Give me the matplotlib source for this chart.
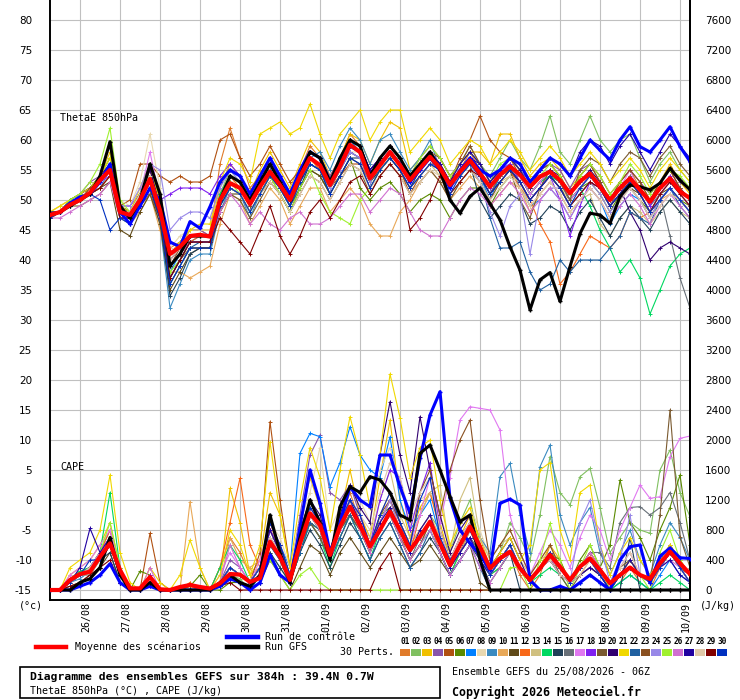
import matplotlib
matplotlib.use('Agg')

import numpy as np
import matplotlib.pyplot as plt
from matplotlib import transforms
from matplotlib.lines import Line2D
from matplotlib.patches import Rectangle

# ---- data: GEFS run 25/08/2026 06Z, 6-hourly, 0..384h ----
hours = list(range(0, 385, 6))

day_labels = ["26/08", "27/08", "28/08", "29/08", "30/08", "31/08", "01/09", "02/09",
              "03/09", "04/09", "05/09", "06/09", "07/09", "08/09", "09/09", "10/09"]
day_hours = [18 + 24 * k for k in range(len(day_labels))]

left_ticks = list(range(-15, 81, 5))
right_ticks = list(range(0, 7601, 400))

member_names = ["%02d" % k for k in range(1, 31)]
member_colors = ['#e07b2a', '#80c060', '#f0c000', '#8855aa', '#b05010', '#5a8a00',
                 '#0080ff', '#e8d8b0', '#3a8ac0', '#e8a858', '#604a18', '#f86818',
                 '#d0c080', '#00d860', '#204058', '#687078', '#e078f0', '#8020f0',
                 '#7a5a30', '#300070', '#f0d800', '#2060a0', '#8a5020', '#9888e8',
                 '#a0f030', '#d070d0', '#2000a0', '#e0c8a8', '#800000', '#0030c0']

# ThetaE 850hPa (deg C)
theta_mean = [47.5, 48, 49.2, 50, 51.2, 53.3, 55, 48, 47.5, 50, 53.5, 48.3, 41, 42.2, 44, 44.2,
              43.9, 50, 52.8, 52, 49.3, 52.2, 54.7, 52.5, 50, 53.9, 57, 55.8, 52.5, 55.6, 59.2,
              58, 53.6, 55.8, 58, 55.8, 53.3, 55.3, 57.2, 55.3, 52.5, 54.7, 56.6, 54.4, 52.2,
              54.2, 55.6, 54.2, 52.2, 53.9, 54.7, 53.3, 51.1, 53.1, 54.4, 52.2, 50, 52, 53.6,
              51.7, 49.7, 52, 53.6, 51.4, 50.3]
theta_ctrl = [47.5, 48, 49.5, 50.5, 51, 53, 56, 48, 46, 49, 52, 50, 43, 42.2, 46.4, 45.3, 48.9,
              53, 55, 54, 51, 54, 57, 54, 51, 55, 58, 57, 53, 56, 59, 58, 54, 56, 58, 56, 53,
              55, 57, 55, 52, 55, 57, 55, 54, 55, 57, 56, 53, 55, 57, 56, 54, 57, 60, 58.3,
              56.7, 60, 62.2, 58.9, 58, 60, 62.2, 58.9, 56.4]
theta_gfs = [47.5, 48, 49, 50, 51, 54, 59.7, 49, 47, 50, 56, 51, 39, 41, 44, 44, 44, 50, 54,
             53, 50, 53, 56, 53, 50, 54, 58, 57, 53, 57, 60, 59, 54, 57, 59, 57, 54, 56, 58,
             55, 50, 47.8, 50.6, 52, 49.4, 46.7, 42.2, 38.3, 31.7, 36.7, 37.9, 33.1, 38.9,
             44.4, 47.8, 47.5, 46.1, 50.6, 52.5, 52.2, 51.7, 52.8, 55.3, 53.3, 51.7]

theta_p01 = [48,48,50, 51,52,54,57, 49,47,51,55, 49,42,43,45, 45,44,56,62, 57,52,54,57, 54,51,55,59, 57,53,57,61, 59,54,57,59, 57,54,56,58, 56,53,55,58, 55,52,55,57, 55,52,55,56, 54,51,54,56, 53,50,53,55, 52,49,52,54, 52,50]
theta_p02 = [47,48,49, 50,51,53,56, 48,47,50,53, 47,38,40,43, 43,43,51,55, 53,50,53,56, 53,50,54,58, 57,53,56,60, 58,53,56,58, 56,53,55,57, 56,53,56,59, 56,54,57,60, 57,55,59,64, 58,56,60,64, 60,58,60,61, 57,53,56,58, 55,53]
theta_p03 = [48,49,50, 51,52,54,58, 49,48,51,55, 50,40,42,45, 45,45,52,56, 54,51,55,58, 55,52,56,60, 58,54,57,61, 60,56,60,63, 62,55,57,59, 57,54,56,58, 58,56,61,61, 57,54,56,57, 55,52,54,56, 54,51,53,55, 53,50,53,56, 53,51]
theta_p04 = [48,48,49, 51,53,54,56, 49,48,51,55, 49,41,43,45, 45,44,50,54, 53,50,53,56, 54,51,55,58, 57,54,57,60, 59,55,57,59, 57,54,57,59, 57,54,56,58, 56,53,55,57, 55,53,55,56, 55,52,55,56, 54,51,53,55, 53,51,53,55, 53,52]
theta_p05 = [47,48,49, 50,51,52,54, 49,50,56,56, 54,53,54,53, 53,54,60,61, 57,54,56,59, 56,53,55,57, 55,52,54,56, 56,53,55,57, 55,51,54,56, 56,53,57,60, 64,60,58,57, 54,51,53,55, 53,50,52,54, 52,49,51,54, 52,50,53,55, 52,50]
theta_p06 = [47,48,49, 50,51,53,55, 47,47,49,52, 47,36,39,42, 42,42,49,52, 51,48,51,54, 51,48,52,55, 54,51,54,57, 52,50,52,53, 51,48,50,51, 50,47,50,52, 52,49,52,54, 54,51,53,54, 52,50,52,53, 51,48,51,52, 50,48,50,52, 50,49]
theta_p07 = [48,48,50, 50,51,53,55, 48,47,50,53, 48,38,41,43, 44,44,50,53, 52,49,52,55, 52,49,53,57, 56,52,56,60, 58,54,57,59, 57,53,56,58, 55,52,54,56, 54,50,54,56, 52,49,50,52, 50,47,50,52, 50,46,49,51, 50,47,50,52, 50,48]
theta_p08 = [48,49,50, 51,52,54,57, 50,49,53,61, 52,42,44,45, 45,45,50,53, 53,50,53,55, 53,50,53,56, 55,52,55,58, 58,54,56,58, 56,53,55,57, 55,52,54,56, 55,52,54,55, 54,51,53,54, 53,49,51,53, 52,49,51,53, 51,48,51,53, 51,49]
theta_p09 = [47,48,49, 50,51,52,55, 47,46,49,52, 46,32,36,40, 41,41,48,52, 51,47,51,54, 52,49,53,57, 58,55,59,62, 60,56,60,61, 58,55,57,60, 55,52,54,56, 54,51,54,56, 54,51,53,54, 53,50,52,54, 52,49,51,53, 51,48,51,53, 51,49]
theta_p10 = [47,48,49, 50,51,52,54, 47,46,48,51, 45,38,38,37, 38,39,46,51, 50,46,49,52, 50,46,49,52, 52,48,50,52, 50,46,44,44, 48,50,53,55, 53,50,52,54, 52,49,51,53, 52,48,51,53, 51,48,50,52, 50,47,50,52, 50,47,50,51, 50,48]
theta_p11 = [47,48,49, 50,51,52,53, 45,44,48,51, 46,35,38,41, 42,42,48,51, 51,48,51,53, 51,48,52,55, 54,51,54,57, 56,52,55,57, 55,52,54,56, 55,52,54,56, 54,51,54,55, 53,50,52,54, 52,49,51,53, 52,49,51,52, 51,48,51,52, 50,48]
theta_p12 = [48,48,49, 50,52,53,55, 48,47,50,54, 48,39,41,43, 44,44,51,54, 52,49,52,55, 53,50,54,57, 55,52,55,59, 58,54,57,59, 57,54,56,58, 56,53,55,57, 55,52,54,55, 52,50,46,43, 36,38,41,44, 43,42,44,48, 47,48,50,52, 50,48]
theta_p13 = [47,48,49, 50,51,53,55, 48,48,50,53, 48,40,42,44, 44,44,49,52, 51,48,51,54, 52,49,53,56, 55,52,55,58, 57,53,55,57, 55,52,54,56, 54,50,53,55, 53,50,53,54, 53,49,51,53, 51,48,50,51, 46,44,47,49, 48,46,48,50, 48,47]
theta_p14 = [48,48,50, 51,52,54,57, 49,48,51,54, 49,39,41,44, 44,44,51,54, 53,50,53,56, 53,50,54,57, 56,52,55,59, 58,53,56,58, 56,53,55,57, 55,52,55,57, 55,52,55,56, 54,51,53,54, 53,50,52,49, 45,42,38,40, 37,31,35,39, 41,42]
theta_p15 = [47,48,49, 50,51,53,55, 47,47,49,52, 47,34,37,41, 42,42,49,52, 51,48,51,54, 52,49,52,56, 55,51,54,57, 57,53,55,57, 55,52,55,57, 55,52,54,56, 50,47,49,51, 50,46,47,49, 48,45,48,50, 47,44,47,49, 47,45,48,50, 48,46]
theta_p16 = [47,48,49, 50,51,53,55, 48,47,50,53, 48,37,40,43, 43,43,50,53, 52,49,52,55, 52,49,53,56, 55,52,55,58, 57,53,56,58, 56,53,55,57, 55,52,54,56, 54,51,54,55, 54,51,53,55, 53,50,52,54, 52,49,52,54, 52,49,51,44, 37,32]
theta_p17 = [47,48,49, 50,51,53,55, 48,47,51,58, 50,40,42,44, 44,44,50,53, 52,49,52,55, 53,50,54,57, 56,52,55,58, 57,53,56,58, 56,53,55,57, 55,52,55,57, 55,52,55,56, 54,51,53,55, 53,50,52,54, 53,50,52,55, 51,48,51,53, 51,49]
theta_p18 = [48,48,49, 51,52,53,54, 49,49,51,53, 50,51,52,52, 52,51,54,56, 54,51,54,57, 54,51,55,58, 57,53,56,60, 59,55,57,59, 57,54,56,58, 56,53,55,57, 55,52,55,56, 53,50,52,54, 50,44,49,53, 52,49,51,53, 52,49,52,54, 52,50]
theta_p19 = [47,48,49, 49,50,51,53, 47,47,49,51, 47,37,40,42, 42,42,48,51, 50,47,50,53, 51,48,51,54, 53,50,53,56, 55,51,54,56, 54,51,53,55, 53,50,53,55, 53,50,53,55, 50,47,52,55, 53,50,55,57, 56,53,56,58, 57,54,57,59, 56,54]
theta_p20 = [48,48,50, 51,52,54,56, 49,48,51,55, 49,40,42,44, 44,44,50,54, 53,50,53,56, 53,50,54,58, 57,53,56,60, 59,55,57,59, 57,54,56,58, 56,53,55,57, 56,53,55,57, 55,52,54,55, 54,51,53,55, 53,50,52,48, 45,40,42,43, 42,41]
theta_p21 = [48,49,50, 51,52,54,57, 49,48,52,56, 50,41,43,45, 46,46,53,57, 56,53,61,62, 63,61,62,66, 61,57,61,63, 65,60,63,65, 65,58,60,62, 60,56,58,60, 59,56,58,60, 58,55,57,59, 57,54,56,58, 56,53,55,57, 55,52,55,57, 55,53]
theta_p22 = [47,48,49, 50,51,53,55, 48,47,50,53, 48,36,39,42, 43,43,50,53, 52,49,52,55, 52,49,53,56, 55,52,55,58, 57,53,56,58, 56,53,55,57, 55,52,54,56, 54,47,42,42, 43,38,35,36, 40,38,40,40, 40,42,44,48, 47,46,50,52, 49,47]
theta_p23 = [48,48,49, 50,52,53,55, 48,48,51,54, 49,39,42,44, 44,44,50,53, 52,49,52,56, 53,50,54,58, 57,53,56,59, 58,54,57,59, 57,54,56,58, 57,54,56,59, 56,53,55,57, 55,52,55,56, 54,51,54,56, 53,50,53,55, 53,50,53,55, 52,50]
theta_p24 = [47,48,49, 50,51,53,56, 49,49,52,56, 55,45,47,48, 48,47,52,55, 53,50,53,56, 53,50,54,57, 56,52,55,58, 57,53,56,58, 56,53,55,57, 55,52,54,56, 53,48,44,49, 51,41,50,52, 52,49,51,53, 51,48,50,52, 50,47,50,52, 50,48]
theta_p25 = [48,48,50, 51,53,56,62, 50,48,51,54, 49,38,40,43, 43,43,49,53, 51,48,51,54, 51,48,52,55, 51,48,47,46, 50,52,55,57, 57,54,57,59, 57,54,56,58, 56,53,56,57, 55,52,54,56, 54,51,54,56, 54,51,53,56, 54,51,53,55, 54,52]
theta_p26 = [47,47,48, 49,50,51,53, 47,47,50,54, 48,39,41,43, 43,43,48,51, 49,46,48,46, 45,47,48,46, 46,47,49,51, 51,48,50,52, 51,48,45,44, 44,47,50,52, 51,49,51,53, 51,48,50,52, 50,47,50,52, 50,47,49,51, 49,46,49,51, 49,47]
theta_p27 = [48,48,49, 50,51,53,56, 48,47,50,53, 48,37,40,43, 43,43,50,54, 53,50,53,56, 53,50,54,58, 57,53,56,60, 59,55,57,59, 57,54,56,58, 56,53,56,58, 56,53,55,57, 55,52,55,57, 56,54,58,60, 59,56,59,61, 58,55,58,61, 59,57]
theta_p28 = [47,48,49, 50,51,53,55, 48,48,51,54, 49,40,42,44, 44,44,50,52, 51,48,51,53, 51,48,51,54, 53,50,53,56, 55,52,54,56, 54,51,53,55, 54,51,53,55, 53,50,52,54, 52,49,51,53, 51,48,50,52, 50,47,50,52, 50,47,49,51, 50,48]
theta_p29 = [47,48,49, 50,51,52,54, 47,47,49,52, 47,37,40,43, 43,43,47,45, 43,41,45,49, 44,41,44,48, 50,47,50,53, 54,51,54,56, 54,45,47,50, 54,51,53,55, 54,51,53,55, 53,50,52,54, 52,49,51,53, 52,49,51,53, 51,48,51,53, 51,49]
theta_p30 = [47,48,49, 50,51,50,45, 47,46,49,52, 47,36,39,42, 42,42,49,52, 51,48,51,54, 52,49,53,56, 55,51,54,57, 56,52,55,57, 55,52,54,56, 55,51,54,56, 54,51,53,55, 53,50,52,54, 52,49,52,54, 52,49,51,53, 51,48,50,52, 50,48]

# CAPE (J/kg)
cape_mean = [0,0,133, 213,244,444,622, 267,22,22,173, 10,0,40,67, 40,20,89,213, 205,107,160,644, 444,133,622,1022, 867,467,844,1111, 860,580,800,1044, 800,533,711,911, 622,333,600,844, 578,289,422,511, 289,133,289,467, 311,133,311,422, 267,89,200,300, 200,147,356,511, 356,213]
cape_ctrl = [0,0,0, 50,100,200,350, 100,0,0,50, 0,0,0,0, 0,0,50,150, 100,0,100,467, 200,100,844,1600, 1156,500,900,1378, 1200,1111,1800,1800, 1378,1022,1756,2333, 2644,1222,800,622, 467,267,1156,1211, 1133,133,0,0, 50,0,100,200, 100,0,400,578, 600,100,450,560, 430,420]
cape_gfs = [0,0,0, 100,150,300,700, 200,0,0,100, 0,0,0,0, 0,0,100,200, 100,50,200,1000, 500,100,700,1200, 900,400,1111,1378, 1300,1511,1467,1300, 1000,933,1822,1933, 1600,1244,911,1000, 400,0,0,0, 0,0,0,0, 0,0,0,0, 0,0,0,0, 0,0,0,0, 0,0]

cape_p01 = [0,0,100, 200,300,500,700, 300,0,0,100, 0,0,0,50, 0,0,300,700, 500,200,300,900, 500,100,700,1200, 900,400,900,1300, 900,500,800,1100, 700,400,600,900, 500,200,500,800, 500,200,300,500, 200,0,200,600, 300,100,200,400, 200,0,100,300, 100,0,300,500, 300,100]
cape_p02 = [0,0,150, 250,300,500,700, 200,0,0,100, 0,0,0,0, 0,0,50,200, 150,0,100,500, 300,100,500,900, 800,400,900,1200, 800,500,900,1200, 900,600,800,1000, 800,500,900,1200, 600,300,500,900, 700,400,1000,1780, 1300,1133,1511,1622, 1100,500,700,900, 800,756,1600,1867, 1300,978]
cape_p03 = [0,0,200, 300,400,600,900, 300,0,0,200, 0,0,0,100, 0,0,100,1356, 900,200,400,1300, 1000,300,900,1500, 1100,500,1000,1600, 1000,700,1500,2267, 1200,700,1100,1300, 900,400,700,1000, 700,300,400,600, 300,100,300,600, 400,100,300,500, 300,0,200,300, 200,100,400,600, 400,200]
cape_p04 = [0,0,100, 200,300,500,800, 200,0,0,100, 0,0,0,0, 0,0,100,400, 300,100,200,800, 600,200,1000,1800, 2067,1300,1200,1400, 1000,600,900,1200, 900,500,700,900, 600,300,600,800, 500,200,400,500, 300,100,300,400, 300,100,300,400, 200,100,200,300, 200,100,400,600, 400,200]
cape_p05 = [0,0,100, 200,300,400,600, 300,0,0,756, 100,0,0,0, 0,0,100,300, 200,100,500,2244, 1200,300,700,1000, 800,400,800,1000, 800,500,800,1000, 700,500,700,900, 600,300,500,800, 500,200,400,500, 300,100,300,400, 300,100,300,400, 200,0,200,300, 200,100,300,500, 300,200]
cape_p06 = [0,0,100, 200,300,400,600, 200,0,250,200, 0,0,0,50, 200,0,0,100, 100,0,200,600, 400,100,600,900, 800,400,800,1000, 800,500,1000,1100, 800,500,700,900, 600,300,500,700, 500,300,400,500, 300,100,300,500, 400,100,400,600, 300,600,1467,900, 700,400,800,1100, 1533,600]
cape_p07 = [0,0,100, 200,200,400,600, 200,0,0,100, 0,0,0,0, 0,0,100,300, 200,100,300,900, 600,300,1822,2089, 2044,1378,1700,2178, 1800,1600,1500,2044, 1200,800,1000,1200, 700,400,600,900, 500,200,400,500, 300,100,300,400, 200,100,200,300, 200,0,100,200, 100,0,200,400, 200,100]
cape_p08 = [0,0,100, 200,300,500,700, 200,0,0,200, 0,0,0,0, 0,0,100,300, 200,100,300,900, 700,300,900,1300, 1900,800,1100,1400, 1200,900,1600,1900, 1400,900,1200,1300, 1000,600,900,1100, 800,400,600,800, 500,200,400,600, 300,100,300,400, 200,0,200,400, 200,100,300,500, 300,100]
cape_p09 = [0,0,100, 150,250,400,600, 200,0,0,100, 0,0,0,0, 0,0,50,200, 100,0,200,600, 400,100,500,900, 700,400,800,1000, 800,500,800,1000, 800,500,700,900, 600,300,500,800, 700,500,1511,1689, 1000,500,1644,1933, 1000,600,900,1100, 500,200,500,800, 400,200,600,900, 700,400]
cape_p10 = [0,0,100, 200,200,400,600, 200,0,0,100, 0,0,0,1178, 300,0,100,700, 400,300,400,800, 500,200,600,1000, 800,400,900,1100, 900,600,1000,1300, 900,600,800,1000, 700,300,500,800, 500,200,400,600, 300,100,300,500, 300,100,300,500, 300,0,200,400, 200,100,300,500, 300,100]
cape_p11 = [0,0,50, 100,200,300,500, 100,0,0,100, 0,0,0,0, 0,0,50,200, 100,0,100,400, 200,0,300,600, 500,200,500,700, 500,300,500,700, 500,300,400,600, 400,200,400,600, 100,0,0,0, 0,0,0,0, 0,0,0,0, 0,0,0,0, 0,0,0,0, 0,0]
cape_p12 = [0,0,100, 200,300,500,800, 300,0,0,200, 0,0,0,100, 0,0,300,900, 1489,600,300,900, 600,200,700,1100, 900,400,800,1200, 1000,600,900,1200, 800,500,1000,1300, 800,400,700,900, 600,300,400,600, 300,100,300,400, 200,100,200,300, 200,0,200,300, 200,100,300,500, 300,100]
cape_p13 = [0,0,100, 200,300,400,600, 200,0,0,100, 0,0,0,0, 0,0,100,200, 200,100,200,700, 500,200,700,1100, 900,500,900,1200, 900,700,1200,1600, 1000,700,1000,1300, 1400,500,1200,1500, 700,400,600,700, 400,200,400,500, 300,100,300,400, 200,0,200,300, 200,100,300,500, 300,100]
cape_p14 = [0,0,150, 250,300,500,1300, 300,0,0,100, 0,0,0,0, 0,0,300,600, 400,100,300,700, 400,100,500,900, 700,300,700,1000, 700,400,800,1000, 700,400,600,800, 500,200,500,700, 400,200,300,500, 300,100,200,300, 200,0,100,200, 100,0,100,200, 100,0,100,200, 100,0]
cape_p15 = [0,0,100, 200,300,400,500, 100,0,0,100, 0,0,0,0, 0,0,50,150, 100,0,100,500, 300,100,500,800, 600,300,600,900, 700,400,700,900, 600,300,500,700, 500,200,400,600, 400,100,300,500, 0,0,0,0, 0,0,0,0, 0,0,0,700, 0,0,0,0, 0,0]
cape_p16 = [0,0,100, 200,300,400,600, 200,0,0,100, 0,0,0,0, 0,0,100,200, 200,100,200,600, 400,100,600,900, 700,400,700,1000, 800,500,800,1000, 700,400,700,900, 600,300,500,700, 500,200,400,600, 300,100,300,500, 300,100,300,500, 500,300,900,1100, 1111,1000,1100,1300, 900,400]
cape_p17 = [0,0,200, 300,400,600,800, 300,0,0,100, 0,0,0,0, 0,0,200,500, 300,100,400,900, 600,200,700,1100, 900,500,900,1200, 900,600,900,1200, 900,600,1000,1500, 900,1500,2267,2444, 2422,2400,2133,1000, 500,200,500,800, 600,300,700,1000, 800,400,800,1100, 1400,1222,1244,1778, 2022,2053]
cape_p18 = [0,0,100, 200,300,500,700, 200,0,0,200, 0,0,0,0, 0,0,100,300, 200,100,300,800, 500,200,600,1000, 800,400,900,1200, 1000,600,1200,1600, 1500,800,1300,1700, 800,400,700,900, 500,200,400,600, 300,100,300,500, 300,100,300,400, 200,0,200,400, 200,100,300,500, 300,200]
cape_p19 = [0,0,100, 200,300,400,600, 200,0,0,100, 0,0,0,0, 0,0,100,200, 200,100,300,700, 500,200,600,900, 700,400,800,1000, 800,500,800,1000, 700,400,600,900, 600,300,500,700, 400,200,400,600, 300,100,300,500, 200,0,200,300, 200,100,300,400, 200,100,1000,2400, 711,300]
cape_p20 = [0,0,100, 200,300,500,700, 200,0,0,100, 0,0,0,0, 0,0,100,300, 200,100,300,900, 600,200,800,1200, 1000,500,1000,1400, 1100,900,1800,2511, 1800,1300,2311,1600, 1000,500,800,1000, 600,300,500,700, 400,100,300,500, 300,100,300,400, 200,0,200,300, 200,100,300,500, 300,100]
cape_p21 = [0,0,300, 400,500,800,1533, 500,100,0,300, 100,0,200,667, 300,0,200,800, 600,200,600,1978, 1000,300,1200,1900, 1500,800,1600,2311, 1800,1100,1800,2880, 2300,1500,1900,2000, 1200,600,900,1100, 600,300,500,700, 400,600,1600,1700, 800,400,1300,1400, 600,200,500,700, 400,200,400,600, 400,200]
cape_p22 = [0,0,100, 200,300,400,600, 200,0,0,100, 0,0,0,0, 0,0,50,200, 100,0,200,600, 400,100,500,900, 800,400,700,1000, 700,400,700,900, 600,300,500,800, 500,200,400,600, 300,0,0,0, 0,0,0,0, 0,0,0,0, 0,0,0,0, 0,0,0,0, 0,0]
cape_p23 = [0,0,100, 200,300,400,600, 200,0,0,100, 0,0,0,0, 0,0,100,300, 200,100,300,800, 500,200,600,1000, 800,400,900,1100, 900,600,1000,1200, 900,600,1300,1600, 1000,1600,2000,2267, 1200,400,600,800, 500,200,400,600, 300,100,300,500, 300,100,200,400, 200,100,300,500, 300,200]
cape_p24 = [0,0,100, 200,300,500,700, 200,0,0,100, 0,0,0,0, 0,0,100,300, 200,100,300,700, 500,200,600,1000, 800,400,800,1100, 900,600,900,1200, 800,500,700,900, 600,300,500,700, 400,200,400,600, 300,100,300,500, 300,100,900,1200, 600,100,400,1000, 200,100,300,500, 300,100]
cape_p25 = [0,0,100, 200,300,500,900, 300,0,0,100, 0,0,0,0, 0,0,100,300, 200,100,200,400, 200,0,200,300, 100,0,0,0, 0,0,0,0, 0,0,0,0, 0,0,0,0, 0,0,0,300, 300,0,400,889, 400,0,300,600, 300,0,200,400, 200,0,500,800, 400,200]
cape_p26 = [0,0,100, 200,300,500,700, 200,0,0,300, 0,0,0,0, 0,0,100,600, 300,100,300,800, 500,200,600,1000, 800,400,800,1100, 800,500,800,1000, 700,400,600,800, 500,200,400,600, 300,100,300,500, 300,100,300,400, 300,100,300,500, 300,100,300,500, 200,100,300,400, 300,100]
cape_p27 = [0,0,100, 300,822,500,700, 200,0,0,100, 0,0,0,0, 0,0,100,300, 200,100,300,800, 500,200,600,1000, 800,400,900,1200, 900,600,900,1100, 800,500,800,1000, 600,300,500,700, 400,200,400,600, 300,100,300,400, 200,100,200,300, 200,0,200,400, 200,100,300,400, 200,100]
cape_p28 = [0,0,100, 200,300,400,600, 200,0,0,100, 0,0,0,0, 0,0,100,300, 200,100,300,700, 500,200,600,1000, 800,400,900,1200, 1000,800,1300,1700, 1500,1000,1300,1500, 800,400,700,900, 500,200,400,600, 300,100,300,400, 200,100,200,400, 200,100,300,500, 200,100,300,500, 300,100]
cape_p29 = [0,0,50, 100,200,300,400, 100,0,0,50, 0,0,0,0, 0,0,50,100, 0,0,0,0, 0,0,0,0, 0,0,0,0, 0,0,300,500, 0,0,0,0, 0,0,0,0, 0,0,0,0, 0,0,0,0, 0,0,0,0, 0,0,0,0, 0,0,0,0, 0,0]
cape_p30 = [0,0,100, 200,400,400,600, 200,0,0,100, 0,0,0,0, 0,0,100,300, 200,100,300,900, 600,200,700,1100, 900,500,900,1200, 1000,600,1000,1300, 900,600,1200,1500, 700,400,600,800, 500,200,400,600, 300,100,300,500, 300,100,300,400, 200,0,200,300, 200,100,300,500, 300,100]

theta_members = [theta_p01, theta_p02, theta_p03, theta_p04, theta_p05, theta_p06, theta_p07,
                 theta_p08, theta_p09, theta_p10, theta_p11, theta_p12, theta_p13, theta_p14,
                 theta_p15, theta_p16, theta_p17, theta_p18, theta_p19, theta_p20, theta_p21,
                 theta_p22, theta_p23, theta_p24, theta_p25, theta_p26, theta_p27, theta_p28,
                 theta_p29, theta_p30]
cape_members = [cape_p01, cape_p02, cape_p03, cape_p04, cape_p05, cape_p06, cape_p07,
                cape_p08, cape_p09, cape_p10, cape_p11, cape_p12, cape_p13, cape_p14,
                cape_p15, cape_p16, cape_p17, cape_p18, cape_p19, cape_p20, cape_p21,
                cape_p22, cape_p23, cape_p24, cape_p25, cape_p26, cape_p27, cape_p28,
                cape_p29, cape_p30]

for name, series in zip(member_names, theta_members):
    assert len(series) == len(hours), ('theta', name, len(series))
for name, series in zip(member_names, cape_members):
    assert len(series) == len(hours), ('cape', name, len(series))
for series in (theta_mean, theta_ctrl, theta_gfs, cape_mean, cape_ctrl, cape_gfs):
    assert len(series) == len(hours), len(series)

# ---- figure ----
W, H = 740, 700
MONO = 'DejaVu Sans Mono'
GRID = '#c0c0c0'

def fx(px):
    return px / W

def fy(py):
    return 1 - py / H

fig = plt.figure(figsize=(W / 100, H / 100), dpi=100)
ax = fig.add_axes([fx(50), fy(600), fx(640), 600 / H])

# left axis in deg C; CAPE axis shares the same pixels (400 J/kg per 5 C, 0 at -15 C)
ymin, ymax = -15 - 10 / 6, 80 + 20 / 6
ax.set_xlim(0, 384)
ax.set_ylim(ymin, ymax)
ax2 = ax.twinx()
ax2.set_ylim((ymin + 15) * 80, (ymax + 15) * 80)
ax2.set_xlim(0, 384)

ax.set_yticks(left_ticks)
ax.set_yticklabels([str(v) for v in left_ticks], fontsize=7.5)
ax2.set_yticks(right_ticks)
ax2.set_yticklabels([str(v) for v in right_ticks], fontsize=7.5)
ax.set_xticks(day_hours)
ax.set_xticklabels([])
ax.tick_params(axis='both', length=0, pad=13)
ax2.tick_params(axis='y', length=0, pad=11)
ax.grid(True, color=GRID, linewidth=0.8)
ax.set_axisbelow(True)

for sp in ('left', 'right', 'bottom'):
    ax.spines[sp].set_linewidth(1.4)
ax.spines['top'].set_visible(False)
for sp in ('left', 'top', 'bottom'):
    ax2.spines[sp].set_visible(False)
ax2.spines['right'].set_linewidth(1.4)

# members
for col, th, cp in zip(member_colors, theta_members, cape_members):
    ax.plot(hours, th, color=col, lw=0.8, marker='+', ms=3, mew=0.7, zorder=2)
    ax2.plot(hours, cp, color=col, lw=0.8, marker='+', ms=3, mew=0.7, zorder=2)

ax.plot(hours, theta_ctrl, color='#0000ff', lw=2.2, marker='+', ms=3, zorder=3)
ax.plot(hours, theta_gfs, color='black', lw=2.2, marker='+', ms=3, zorder=3)
ax.plot(hours, theta_mean, color='#ff0000', lw=3.0, zorder=4)
ax2.plot(hours, cape_ctrl, color='#0000ff', lw=2.2, marker='+', ms=3, zorder=3)
ax2.plot(hours, cape_gfs, color='black', lw=2.2, marker='+', ms=3, zorder=3)
ax2.plot(hours, cape_mean, color='#ff0000', lw=3.0, zorder=4)

ax.text(0.0156, 0.803, 'ThetaE 850hPa', transform=ax.transAxes, family=MONO,
        fontsize=7.2, ha='left', va='center')
ax.text(0.0156, 0.222, 'CAPE', transform=ax.transAxes, family=MONO,
        fontsize=7.2, ha='left', va='center')

# date labels, rotated, under each day line
base = transforms.blended_transform_factory(ax.transData, ax.transAxes)
lab_tr = transforms.offset_copy(base, fig=fig, x=6, y=-2, units='dots')
for h, lab in zip(day_hours, day_labels):
    ax.text(h, 0, lab, transform=lab_tr, rotation=90, ha='center', va='top',
            family=MONO, fontsize=7.2)

fig.text(fx(31), fy(606), '(°c)', family=MONO, fontsize=7.2, ha='center', va='center')
fig.text(fx(700), fy(606), '(J/kg)', family=MONO, fontsize=7.2, ha='left', va='center')

# legend
fig.add_artist(Line2D([fx(36), fx(66)], [fy(647), fy(647)], color='#ff0000', lw=3.2))
fig.text(fx(75), fy(647), 'Moyenne des scénarios', family=MONO, fontsize=7.2, va='center')
fig.add_artist(Line2D([fx(227), fx(258)], [fy(637), fy(637)], color='#0000ff', lw=3.2))
fig.text(fx(265), fy(637), 'Run de contrôle', family=MONO, fontsize=7.2, va='center')
fig.add_artist(Line2D([fx(227), fx(258)], [fy(647), fy(647)], color='black', lw=3.2))
fig.text(fx(265), fy(647), 'Run GFS', family=MONO, fontsize=7.2, va='center')
fig.text(fx(340), fy(652), '30 Perts.', family=MONO, fontsize=7.2, va='center')

pitch = 328 / 30
for k, (name, col) in enumerate(zip(member_names, member_colors)):
    x0 = 400 + k * pitch
    fig.add_artist(Rectangle((fx(x0), fy(656)), fx(pitch - 1), 7 / H,
                             facecolor=col, edgecolor='none'))
    fig.text(fx(x0 + (pitch - 1) / 2), fy(642), name, family=MONO, fontsize=5.6,
             fontweight='bold', ha='center', va='center')

# info box
fig.add_artist(Rectangle((fx(20), fy(698)), fx(420), 31 / H, facecolor='none',
                         edgecolor='black', lw=1.2))
fig.text(fx(30), fy(677), 'Diagramme des ensembles GEFS sur 384h : 39.4N 0.7W',
         family=MONO, fontsize=8.2, fontweight='bold', va='center')
fig.text(fx(30), fy(691), 'ThetaE 850hPa (°C) , CAPE (J/kg)', family=MONO,
         fontsize=7.2, va='center')
fig.text(fx(452), fy(672), 'Ensemble GEFS du 25/08/2026 - 06Z', family=MONO,
         fontsize=7.2, va='center')
fig.text(fx(452), fy(692), 'Copyright 2026 Meteociel.fr', family=MONO, fontsize=8.4,
         fontweight='bold', va='center')

fig.savefig('out.png', dpi=100)
